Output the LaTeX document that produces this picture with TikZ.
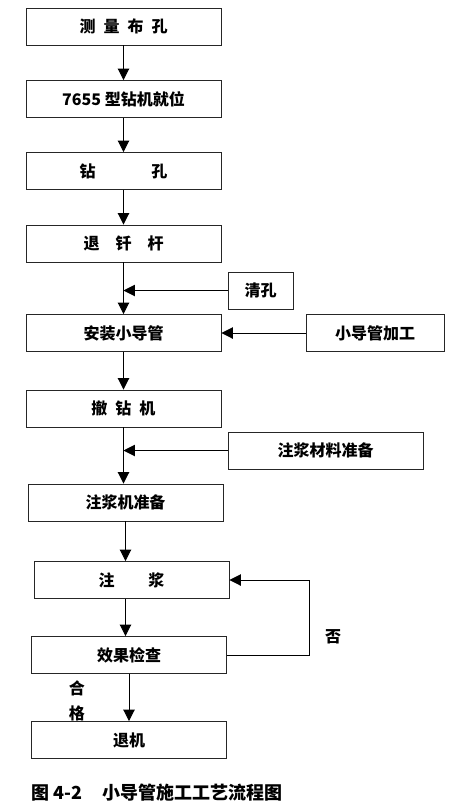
\documentclass[tikz,border=0pt]{standalone}
\usepackage{fontspec}
\setmainfont{Noto Sans CJK SC}
\usetikzlibrary{arrows.meta,positioning,calc}
\newcommand{\zgap}[1][0.5em]{\hspace{#1}}

\begin{document}
\begin{tikzpicture}[x=0.75pt,y=-0.75pt,
    box/.style={draw=black!85, line width=0.7pt, minimum width=146.25pt, minimum height=27.75pt, inner sep=0pt, font=\fontsize{12}{14}\selectfont\bfseries},
    arr/.style={-{Triangle[width=8.5pt,length=8.5pt]}, line width=0.7pt},
    lbl/.style={font=\fontsize{12}{14}\selectfont\bfseries}]
    \useasboundingbox (0,0) rectangle (463,808);

    % Main flow
    \node[box] (survey) at (123.5,26.5) {测\zgap 量\zgap 布\zgap 孔};
    \node[box] (locate) at (123.5,99) {7655 型钻机就位};
    \node[box] (drill) at (123.5,171) {钻\zgap[3.5em]孔};
    \node[box] (retract) at (123.5,243.5) {退\zgap[1em]钎\zgap[1em]杆};
    \node[box] (install) at (123.5,333) {安装小导管};
    \node[box] (remove) at (123.5,408.5) {撤\zgap 钻\zgap 机};
    \node[box] (prep) at (125.5,502.5) {注浆机准备};
    \node[box] (grout) at (131.5,580) {注\zgap[2.1em]浆};
    \node[box] (check) at (129,655) {效果检查};
    \node[box] (exit) at (129,740) {退机};

    % Side inputs
    \node[box, minimum width=48.75pt] (clear) at (260.5,290.5) {清孔};
    \node[box, minimum width=103.5pt] (pipe) at (375,333) {小导管加工};
    \node[box] (material) at (325.5,450.5) {注浆材料准备};

    % Arrows
    \draw[arr] (survey) -- (locate);
    \draw[arr] (locate) -- (drill);
    \draw[arr] (drill) -- (retract);
    \draw[arr] (retract) -- (install);
    \draw[arr] (install) -- (remove);
    \draw[arr] (remove.south) -- (remove.south |- prep.north);
    \draw[arr] (prep.south) -- (prep.south |- grout.north);
    \draw[arr] (prep.south |- grout.south) -- (prep.south |- check.north);
    \draw[arr] (check) -- (exit);

    \draw[arr] (clear.west) -- (clear.west -| retract.south);
    \draw[arr] (pipe.west) -- (install.east);
    \draw[arr] (material.west) -- (material.west -| remove.south);

    % Feedback loop
    \draw[arr] (check.east) -- ++(82,0) |- (grout.east);
    \node[lbl] (no) at (333,637) {否};
    \node[lbl, align=center, font=\fontsize{12}{19}\selectfont\bfseries] (pass) at (77,701) {合\\格};

    % Caption
    \node[anchor=west, font=\fontsize{13.5}{16}\selectfont\bfseries] (caption) at (27,793) {图 4-2\hspace{1.1em}小导管施工工艺流程图};
\end{tikzpicture}
\end{document}
